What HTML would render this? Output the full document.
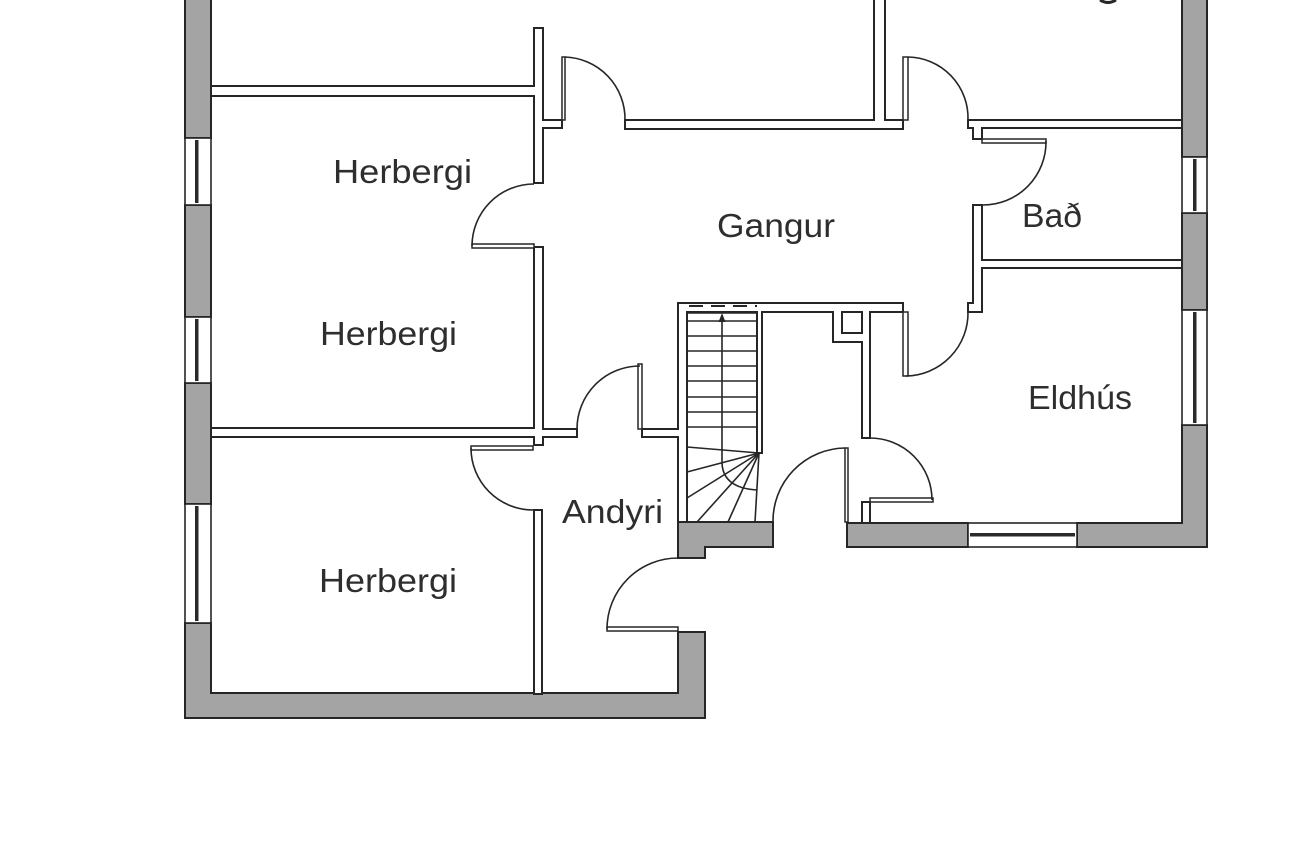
<!DOCTYPE html>
<html><head><meta charset="utf-8"><style>
html,body{margin:0;padding:0;background:#fff;}
svg{display:block;}
</style></head><body>
<svg width="1300" height="867" viewBox="0 0 1300 867" xmlns="http://www.w3.org/2000/svg">
<rect x="0" y="0" width="1300" height="867" fill="#fff"/>

<!-- exterior gray walls -->
<g fill="#a4a4a4" stroke="#262626" stroke-width="2">
  <rect x="185" y="-5" width="26" height="143"/>
  <rect x="185" y="205" width="26" height="112"/>
  <rect x="185" y="383" width="26" height="121"/>
  <polygon points="185,623 211,623 211,693 678,693 678,632 705,632 705,718 185,718"/>
  <polygon points="678,522 773,522 773,547 705,547 705,558 678,558"/>
  <rect x="1182" y="-5" width="25" height="162"/>
  <rect x="1182" y="213" width="25" height="97"/>
  <polygon points="1182,425 1207,425 1207,547 1077,547 1077,523 1182,523"/>
  <rect x="847" y="523" width="121" height="24"/>
</g>

<!-- windows -->
<g fill="#fff" stroke="#262626" stroke-width="1.6">
  <rect x="185" y="138" width="26" height="67"/>
  <rect x="185" y="317" width="26" height="66"/>
  <rect x="185" y="504" width="26" height="119"/>
  <rect x="1182" y="157" width="25" height="56"/>
  <rect x="1182" y="310" width="25" height="115"/>
  <rect x="968" y="523" width="109" height="24"/>
</g>
<g fill="#2a2a2a">
  <rect x="195" y="140" width="3.5" height="63"/>
  <rect x="195" y="319" width="3.5" height="62"/>
  <rect x="195" y="506" width="3.5" height="115"/>
  <rect x="1193" y="159" width="3.5" height="52"/>
  <rect x="1193" y="312" width="3.5" height="111"/>
  <rect x="970" y="533" width="105" height="3.5"/>
</g>

<!-- interior walls: strokes -->
<g fill="#fff" stroke="#262626" stroke-width="2">
  <rect x="211" y="86" width="327" height="10"/>
  <rect x="534" y="28" width="9" height="155"/>
  <rect x="534" y="247" width="9" height="198"/>
  <rect x="211" y="428" width="327" height="9"/>
  <rect x="534" y="510" width="8" height="184"/>
  <rect x="538" y="429" width="39" height="8"/>
  <rect x="642" y="429" width="40" height="8"/>
  <rect x="539" y="120" width="23" height="8"/>
  <rect x="625" y="120" width="278" height="9"/>
  <rect x="874" y="-5" width="11" height="129"/>
  <rect x="968" y="120" width="214" height="8"/>
  <rect x="973" y="124" width="9" height="15"/>
  <rect x="973" y="205" width="9" height="107"/>
  <rect x="968" y="303" width="9" height="9"/>
  <rect x="978" y="260" width="204" height="8"/>
  <rect x="678" y="303" width="225" height="9"/>
  <rect x="678" y="303" width="9" height="219"/>
  <rect x="757" y="308" width="5" height="145"/>
  <rect x="833" y="308" width="9" height="34"/>
  <rect x="838" y="333" width="28" height="9"/>
  <rect x="862" y="308" width="8" height="130"/>
  <rect x="862" y="502" width="8" height="21"/>
</g>
<!-- interior walls: fills to clean junctions -->
<g fill="#fff" stroke="none">
  <rect x="212" y="87" width="325" height="8"/>
  <rect x="535" y="29" width="7" height="153"/>
  <rect x="535" y="248" width="7" height="196"/>
  <rect x="212" y="429" width="325" height="7"/>
  <rect x="535" y="511" width="6" height="182"/>
  <rect x="539" y="430" width="37" height="6"/>
  <rect x="643" y="430" width="38" height="6"/>
  <rect x="540" y="121" width="21" height="6"/>
  <rect x="626" y="121" width="276" height="7"/>
  <rect x="875" y="-4" width="9" height="127"/>
  <rect x="969" y="121" width="212" height="6"/>
  <rect x="974" y="125" width="7" height="13"/>
  <rect x="974" y="206" width="7" height="105"/>
  <rect x="969" y="304" width="7" height="7"/>
  <rect x="979" y="261" width="202" height="6"/>
  <rect x="679" y="304" width="223" height="7"/>
  <rect x="679" y="304" width="7" height="217"/>
  <rect x="758" y="309" width="3" height="143"/>
  <rect x="834" y="309" width="7" height="32"/>
  <rect x="839" y="334" width="26" height="7"/>
  <rect x="863" y="309" width="6" height="128"/>
  <rect x="863" y="503" width="6" height="19"/>
</g>
<!-- stair top dashed line -->
<line x1="689" y1="306" x2="757" y2="306" stroke="#262626" stroke-width="2" stroke-dasharray="14 8"/>

<!-- door leaves -->
<g fill="#fff" stroke="#262626" stroke-width="1.5">
  <rect x="472" y="244" width="62" height="4"/>
  <rect x="562" y="57" width="3" height="63"/>
  <rect x="903" y="57" width="5" height="63"/>
  <rect x="982" y="139" width="64" height="4"/>
  <rect x="903" y="312" width="5" height="64"/>
  <rect x="638" y="364" width="4" height="65"/>
  <rect x="471" y="446" width="62" height="4"/>
  <rect x="607" y="627" width="71" height="4"/>
  <rect x="845" y="448" width="3" height="74"/>
  <rect x="870" y="498" width="63" height="4"/>
</g>
<!-- door swings -->
<g fill="none" stroke="#262626" stroke-width="1.6">
  <path d="M472,246 A62,62 0 0 1 534,184"/>
  <path d="M565,57 A62,62 0 0 1 625,120"/>
  <path d="M908,57 A61,61 0 0 1 968,120"/>
  <path d="M1046,141 A63,63 0 0 1 983,205"/>
  <path d="M968,312 A63,63 0 0 1 906,376"/>
  <path d="M577,429 A63,63 0 0 1 640,366"/>
  <path d="M471,448 A62,62 0 0 0 533,510"/>
  <path d="M607,629 A71,71 0 0 1 678,558"/>
  <path d="M845,448 A73,73 0 0 0 773,522"/>
  <path d="M870,438 A62,62 0 0 1 932,500"/>
</g>

<!-- stairs -->
<g stroke="#262626" stroke-width="1.6" fill="none">
  <line x1="687" y1="313" x2="757" y2="313"/>
  <line x1="687" y1="321" x2="757" y2="321"/>
  <line x1="687" y1="336" x2="757" y2="336"/>
  <line x1="687" y1="351" x2="757" y2="351"/>
  <line x1="687" y1="366" x2="757" y2="366"/>
  <line x1="687" y1="381" x2="757" y2="381"/>
  <line x1="687" y1="397" x2="757" y2="397"/>
  <line x1="687" y1="412" x2="757" y2="412"/>
  <line x1="687" y1="427" x2="757" y2="427"/>
  <line x1="687" y1="447" x2="759" y2="453"/>
  <line x1="687" y1="472" x2="759" y2="453"/>
  <line x1="687" y1="498" x2="759" y2="453"/>
  <line x1="697" y1="522" x2="759" y2="453"/>
  <line x1="728" y1="522" x2="759" y2="453"/>
  <line x1="755" y1="522" x2="759" y2="453"/>
  <path d="M722,320 V463 Q723,488 757,490"/>
</g>
<polygon points="722,313 718.5,322 725.5,322" fill="#262626"/>

<!-- top-right descender fragment -->
<path d="M1100,0 Q1108,5 1116,0" fill="none" stroke="#262626" stroke-width="3"/>

<!-- labels -->
<g font-family="'Liberation Sans', 'DejaVu Sans', sans-serif" font-size="33" fill="#2e2e2e">
  <text x="333" y="183" textLength="139" lengthAdjust="spacingAndGlyphs">Herbergi</text>
  <text x="320" y="345" textLength="137" lengthAdjust="spacingAndGlyphs">Herbergi</text>
  <text x="319" y="592" textLength="138" lengthAdjust="spacingAndGlyphs">Herbergi</text>
  <text x="717" y="237" textLength="118" lengthAdjust="spacingAndGlyphs">Gangur</text>
  <text x="1022" y="227" textLength="60" lengthAdjust="spacingAndGlyphs">Bað</text>
  <text x="1028" y="409" textLength="104" lengthAdjust="spacingAndGlyphs">Eldhús</text>
  <text x="562" y="523" textLength="101" lengthAdjust="spacingAndGlyphs">Andyri</text>
</g>
</svg>
</body></html>
